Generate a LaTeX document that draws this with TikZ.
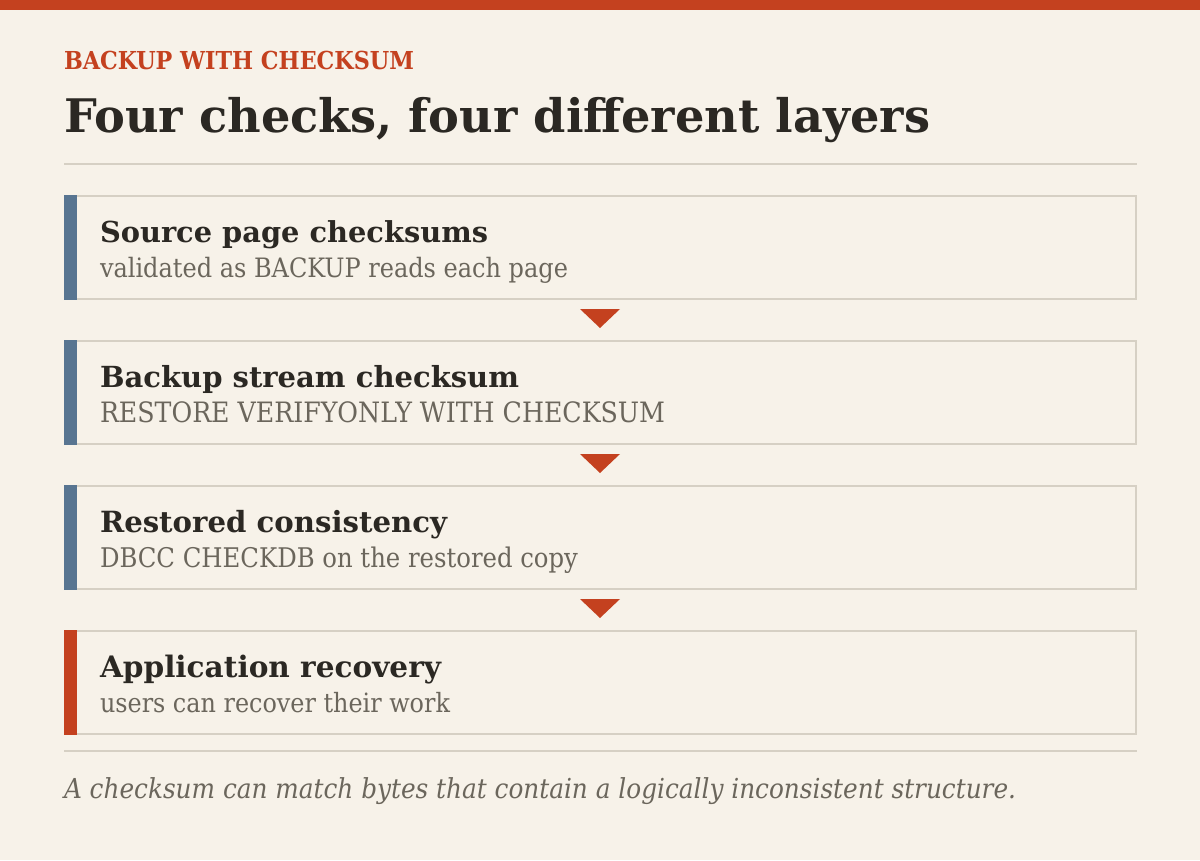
\documentclass[tikz,border=0pt]{standalone}
\usepackage{fontspec}
\usepackage{graphicx}
\setmainfont{DejaVu Serif}
\newfontfamily\condfont{DejaVu Serif Condensed}
\usetikzlibrary{calc}
\definecolor{bg}{HTML}{F7F2E9}
\definecolor{accent}{HTML}{C4411F}
\definecolor{ink}{HTML}{2B2823}
\definecolor{subink}{HTML}{6B665C}
\definecolor{rule}{HTML}{D6D0C4}
\definecolor{slate}{HTML}{587591}
\tikzset{
  txt/.style={anchor=base west, inner sep=0pt, outer sep=0pt},
  card/.style={draw=rule, line width=2pt, fill=bg, minimum width=1071pt, minimum height=103pt, inner sep=0pt},
  marker/.style={fill=accent, draw=none},
}
\newcommand{\fitw}[2]{\resizebox{#1pt}{!}{#2}}
\begin{document}
\begin{tikzpicture}[x=1pt, y=-1pt]
\useasboundingbox (0,0) rectangle (1200,860);
\fill[bg] (0,0) rectangle (1200,860);
\fill[accent] (0,0) rectangle (1200,10);
\node[txt, text=accent] (eyebrow) at (64,69) {\fitw{350}{\condfont\bfseries BACKUP WITH CHECKSUM}};
\node[txt, text=ink] (title) at (64,132) {\fitw{866}{\bfseries Four checks, four different layers}};
\draw[rule, line width=2pt] (64,164) -- (1137,164);
% cards
\node[card] (b1) at (600.5,247.5) {};
\node[card] (b2) at (600.5,392.5) {};
\node[card] (b3) at (600.5,537.5) {};
\node[card] (b4) at (600.5,682.5) {};
\fill[slate] (64,195) rectangle (77,300);
\fill[slate] (64,340) rectangle (77,445);
\fill[slate] (64,485) rectangle (77,590);
\fill[accent] (64,630) rectangle (77,735);
\node[txt, text=ink] (t1) at (100,242) {\fitw{388}{\bfseries Source page checksums}};
\node[txt, text=subink] (s1) at (100,277) {\fitw{468}{\condfont validated as BACKUP reads each page}};
\node[txt, text=ink] (t2) at (100,387) {\fitw{419}{\bfseries Backup stream checksum}};
\node[txt, text=subink] (s2) at (100,422) {\fitw{565}{\condfont RESTORE VERIFYONLY WITH CHECKSUM}};
\node[txt, text=ink] (t3) at (100,532) {\fitw{347}{\bfseries Restored consistency}};
\node[txt, text=subink] (s3) at (100,567) {\fitw{478}{\condfont DBCC CHECKDB on the restored copy}};
\node[txt, text=ink] (t4) at (100,677) {\fitw{341}{\bfseries Application recovery}};
\node[txt, text=subink] (s4) at (100,712) {\fitw{350}{\condfont users can recover their work}};
% arrows between cards
\foreach \a in {b1,b2,b3}{
  \fill[marker] ($(\a.south)+(-20.5,9)$) -- ($(\a.south)+(19.5,9)$) -- ($(\a.south)+(-0.5,28)$) -- cycle;
}
\draw[rule, line width=2pt] (64,751) -- (1137,751);
\node[txt, text=subink] (foot) at (64,798) {\fitw{952}{\condfont\itshape A checksum can match bytes that contain a logically inconsistent structure.}};
\end{tikzpicture}
\end{document}
